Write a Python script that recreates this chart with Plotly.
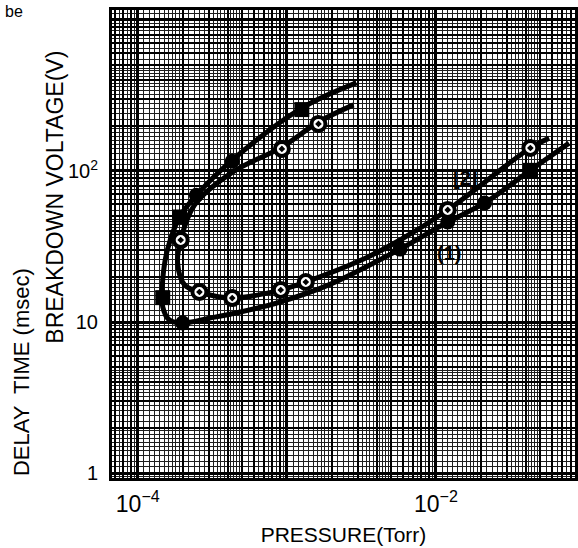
import numpy as np
import plotly.graph_objects as go

# ---------------- data ----------------
# curve (1): outer C-shaped curve (line through points)
p1_line = [2.93e-3, 1.26e-3, 4.30e-4, 2.47e-4, 1.91e-4, 1.58e-4, 1.47e-4, 1.47e-4,
           1.63e-4, 2.0e-4, 3.02e-4, 4.79e-4, 9.1e-4, 1.91e-3, 5.75e-3, 1.20e-2,
           2.12e-2, 4.30e-2, 7.82e-2]
v1_line = [383, 261, 118, 69, 49.6, 30, 19, 12.6,
           10.3, 9.85, 10.6, 11.6, 13.6, 17.6, 30.4, 45.9,
           61.4, 101, 153]
# curve (1) markers
p1_sq = [1.26e-3, 1.91e-4, 1.47e-4, 4.30e-2]
v1_sq = [255, 49.6, 14.5, 101]
p1_dot = [4.30e-4, 2.47e-4, 2.0e-4, 5.75e-3, 1.20e-2, 2.12e-2]
v1_dot = [116, 69, 9.85, 30.4, 45.9, 61.4]

# curve (2): inner C-shaped curve
p2_line = [2.80e-3, 1.63e-3, 9.26e-4, 4.30e-4, 2.40e-4, 1.94e-4, 1.85e-4, 2.06e-4,
           2.59e-4, 4.30e-4, 9.1e-4, 1.34e-3, 3.16e-3, 5.75e-3, 1.20e-2, 4.30e-2, 5.75e-2]
v2_line = [274, 211, 144, 98, 59.6, 34.9, 24.6, 17.6,
           15.8, 14.4, 16.3, 18.4, 25.7, 34.9, 55.2, 142, 165]
# curve (2) markers
p2_pts = [1.63e-3, 9.26e-4, 1.94e-4, 2.59e-4, 4.30e-4, 9.1e-4, 1.34e-3, 1.20e-2, 4.30e-2]
v2_pts = [205, 140, 34.9, 15.8, 14.4, 16.3, 18.4, 55.2, 142]

x_tick_vals = [1e-5, 1e-4, 1e-3, 1e-2, 1e-1]
x_tick_text = ["", "10<sup>−4</sup>", "", "10<sup>−2</sup>", ""]
y_tick_vals = [1, 10, 100, 1000]
y_tick_text = ["1", "10", "10<sup>2</sup>", ""]

curve_labels = ["<b>[2]</b>", "<b>(1)</b>"]
curve_label_pos = [(1.56e-2, 89.9), (1.23e-2, 28.6)]

# ---------------- graph-paper grid positions ----------------
fine_m = [1.1, 1.2, 1.3, 1.4, 1.5, 1.6, 1.7, 1.8, 1.9,
          2.2, 2.4, 2.6, 2.8, 3.2, 3.4, 3.6, 3.8, 4.2, 4.4, 4.6, 4.8,
          5.5, 6.5, 7.5, 8.5, 9.5]
mid_m = [2, 3, 4, 5, 6, 7, 8, 9]

def grid(decs, mults):
    return [m * 10.0 ** d for d in decs for m in mults]

x_fine = grid(range(-5, 0), fine_m)
x_mid = grid(range(-5, 0), mid_m)
y_fine = grid(range(-1, 4), fine_m)
y_mid = grid(range(-1, 4), mid_m)

FONT = "Liberation Sans, Arial, sans-serif"
xr = [-4.173, -1.067]
yr = [-0.033, 3.066]

fig = go.Figure()
# empty trace for the base (grid) subplot
fig.add_trace(go.Scatter(x=[], y=[], xaxis="x", yaxis="y", showlegend=False))

# curve lines
fig.add_trace(go.Scatter(x=p1_line, y=v1_line, mode="lines", xaxis="x2", yaxis="y2",
                         line=dict(color="black", width=5, shape="spline", smoothing=1.0),
                         showlegend=False))
fig.add_trace(go.Scatter(x=p2_line, y=v2_line, mode="lines", xaxis="x2", yaxis="y2",
                         line=dict(color="black", width=5, shape="spline", smoothing=1.0),
                         showlegend=False))
# markers
fig.add_trace(go.Scatter(x=p1_sq, y=v1_sq, mode="markers", xaxis="x2", yaxis="y2",
                         marker=dict(symbol="square", size=15, color="black"), showlegend=False))
fig.add_trace(go.Scatter(x=p1_dot, y=v1_dot, mode="markers", xaxis="x2", yaxis="y2",
                         marker=dict(symbol="circle", size=15, color="black"), showlegend=False))
fig.add_trace(go.Scatter(x=p2_pts, y=v2_pts, mode="markers", xaxis="x2", yaxis="y2",
                         marker=dict(symbol="circle-dot", size=14, color="white",
                                     line=dict(color="black", width=4)), showlegend=False))

for txt, (px, py) in zip(curve_labels, curve_label_pos):
    fig.add_annotation(x=np.log10(px), y=np.log10(py), xref="x2", yref="y2", text=txt,
                       showarrow=False, font=dict(family=FONT, size=20, color="black"))

fig.update_layout(
    width=578, height=548,
    margin=dict(l=112, r=0, t=10, b=70),
    paper_bgcolor="white", plot_bgcolor="white",
    font=dict(family=FONT, color="black"),
    xaxis=dict(type="log", range=xr, tickmode="array", tickvals=x_mid,
               showgrid=True, gridcolor="black", gridwidth=1.5,
               showticklabels=False, ticks="", zeroline=False,
               minor=dict(tickmode="array", tickvals=x_fine, showgrid=True,
                          gridcolor="#1e1e1e", gridwidth=1.1, ticks="")),
    yaxis=dict(type="log", range=yr, tickmode="array", tickvals=y_mid,
               showgrid=True, gridcolor="black", gridwidth=1.5,
               showticklabels=False, ticks="", zeroline=False,
               minor=dict(tickmode="array", tickvals=y_fine, showgrid=True,
                          gridcolor="#1e1e1e", gridwidth=1.1, ticks="")),
    xaxis2=dict(type="log", range=xr, overlaying="x", anchor="y2", side="bottom",
                tickmode="array", tickvals=x_tick_vals, ticktext=x_tick_text,
                showgrid=True, gridcolor="black", gridwidth=2.5,
                ticks="", ticklabelstandoff=3, zeroline=False,
                showline=True, linecolor="black", linewidth=3, mirror=True,
                tickfont=dict(family=FONT, size=23, color="black"),
                title=dict(text="PRESSURE(Torr)", standoff=12,
                           font=dict(family=FONT, size=21, color="black"))),
    yaxis2=dict(type="log", range=yr, overlaying="y", anchor="x2", side="left",
                tickmode="array", tickvals=y_tick_vals, ticktext=y_tick_text,
                showgrid=True, gridcolor="black", gridwidth=2.5,
                ticks="", ticklabelstandoff=7, zeroline=False,
                showline=True, linecolor="black", linewidth=3, mirror=True,
                tickfont=dict(family=FONT, size=20, color="black")),
)

# axis titles for the two quantities on the y axis
fig.add_annotation(text="BREAKDOWN VOLTAGE(V)", xref="paper", yref="paper",
                   x=-0.122, y=0.60, xanchor="center", yanchor="middle", textangle=-90,
                   showarrow=False, font=dict(family=FONT, size=23, color="black"))
fig.add_annotation(text="DELAY  TIME (msec)", xref="paper", yref="paper",
                   x=-0.197, y=0.226, xanchor="center", yanchor="middle", textangle=-90,
                   showarrow=False, font=dict(family=FONT, size=22, color="black"))
fig.add_annotation(text="be", xref="paper", yref="paper", x=-0.235, y=1.02,
                   xanchor="left", yanchor="top", showarrow=False,
                   font=dict(family=FONT, size=16, color="black"))

fig.write_html("out.html")
